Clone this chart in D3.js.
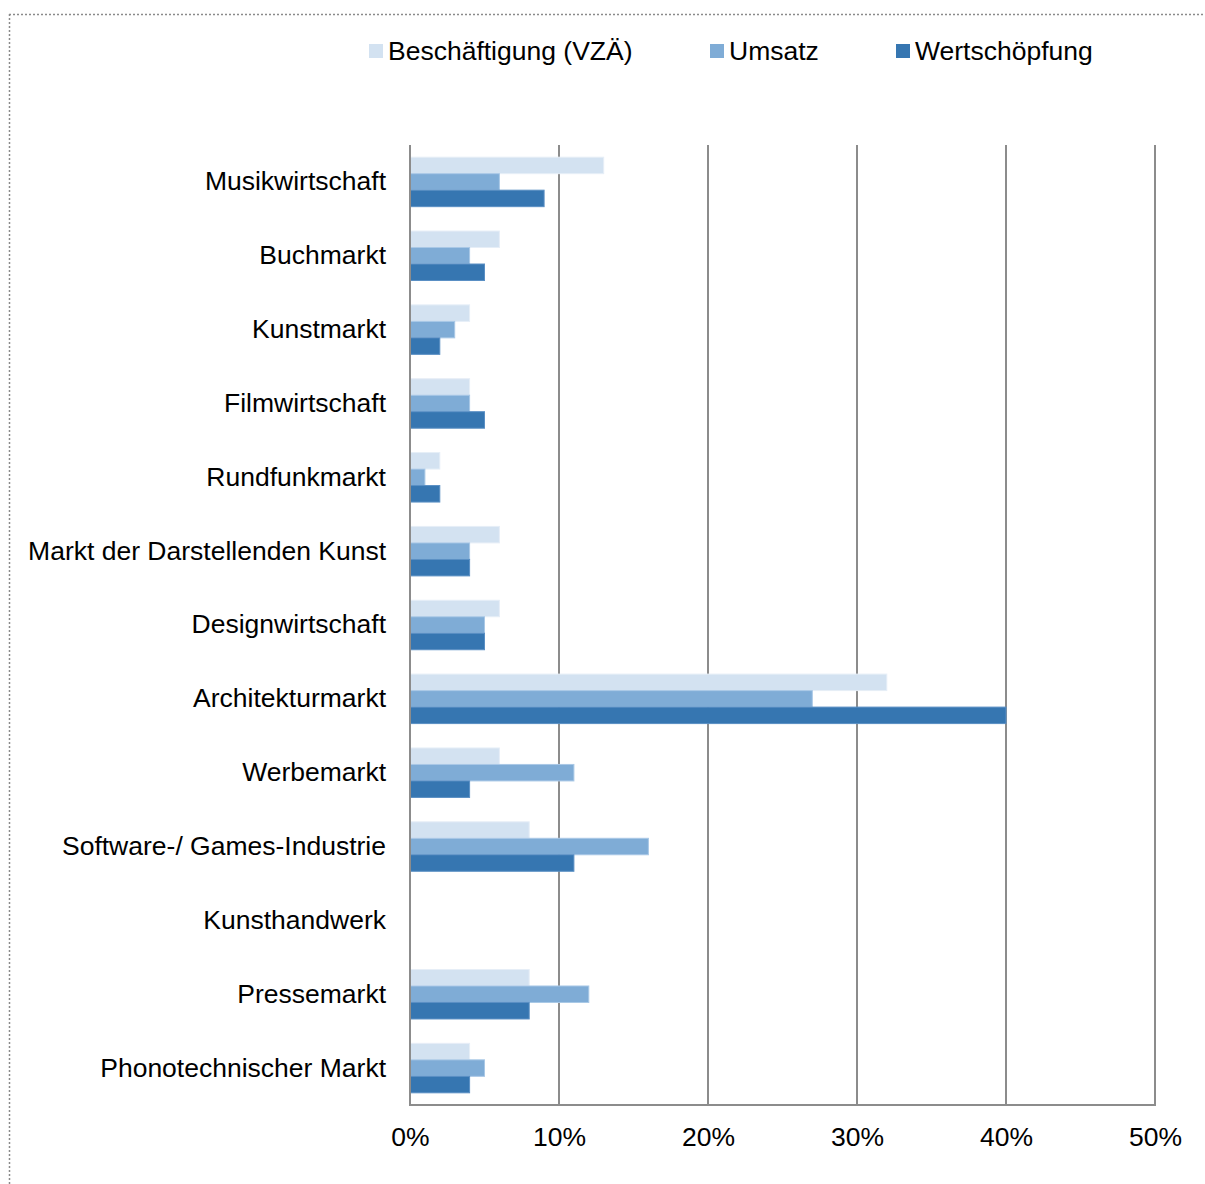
<!DOCTYPE html>
<html>
<head>
<meta charset="utf-8">
<script src="https://cdn.jsdelivr.net/npm/d3@7"></script>
<style>
  html, body { margin: 0; padding: 0; background: #fff; }
  svg text { font-family: "Liberation Sans", Arial, sans-serif; fill: #000; }
</style>
</head>
<body>
<svg id="chart" width="1205" height="1184"></svg>
<script>
// Branches of the cultural and creative industries
const categories = [
  "Musikwirtschaft", "Buchmarkt", "Kunstmarkt", "Filmwirtschaft", "Rundfunkmarkt",
  "Markt der Darstellenden Kunst", "Designwirtschaft", "Architekturmarkt", "Werbemarkt",
  "Software-/ Games-Industrie", "Kunsthandwerk", "Pressemarkt", "Phonotechnischer Markt"
];
const seriesNames = ["Beschäftigung (VZÄ)", "Umsatz", "Wertschöpfung"];
// Shares in percent (Kunsthandwerk has no values)
const beschaeftigung = [13, 6, 4, 4, 2, 6, 6, 32, 6, 8, null, 8, 4];
const umsatz         = [6, 4, 3, 4, 1, 4, 5, 27, 11, 16, null, 12, 5];
const wertschoepfung = [9, 5, 2, 5, 2, 4, 5, 40, 4, 11, null, 8, 4];
const tickValues = [0, 10, 20, 30, 40, 50];

const colors = ["#d3e2f1", "#7facd6", "#3676b1"];
const strokes = ["#e6eef7", "#a9c8e6", "#5a8fc4"];
const seriesValues = [beschaeftigung, umsatz, wertschoepfung];
const fontSize = "26.5px";

const svg = d3.select("#chart");

// Dotted frame (top and left edges visible)
svg.append("line").attr("x1", 9).attr("x2", 1205).attr("y1", 14.5).attr("y2", 14.5)
  .attr("stroke", "#8a8a8a").attr("stroke-width", 1.5).attr("stroke-dasharray", "2,2");
svg.append("line").attr("x1", 9.5).attr("x2", 9.5).attr("y1", 14).attr("y2", 1184)
  .attr("stroke", "#8a8a8a").attr("stroke-width", 1.5).attr("stroke-dasharray", "2,2");

const plot = { left: 410, right: 1155, top: 145, bottom: 1105 };

const x = d3.scaleLinear().domain([0, 50]).range([plot.left, plot.right]);
const y = d3.scaleBand().domain(categories).range([plot.top, plot.bottom]).paddingInner(0.33).paddingOuter(0.165);
const ySub = d3.scaleBand().domain(d3.range(3)).range([0, y.bandwidth()]);

// Vertical gridlines
svg.append("g").selectAll("line").data(tickValues.slice(1)).join("line")
  .attr("x1", d => x(d)).attr("x2", d => x(d))
  .attr("y1", plot.top).attr("y2", plot.bottom)
  .attr("stroke", "#8c8c8c").attr("stroke-width", 2);

// Bars
const rows = categories.map((c, i) => ({ c, vals: seriesValues.map(s => s[i]) }));
const groups = svg.append("g").selectAll("g").data(rows).join("g")
  .attr("transform", d => `translate(0,${y(d.c)})`);
groups.selectAll("rect")
  .data(d => d.vals.map((v, k) => ({ v, k })).filter(e => e.v != null))
  .join("rect")
  .attr("x", x(0))
  .attr("y", e => ySub(e.k))
  .attr("width", e => x(e.v) - x(0))
  .attr("height", ySub.bandwidth())
  .attr("fill", e => colors[e.k])
  .attr("stroke", e => strokes[e.k])
  .attr("stroke-width", 1);

// Axes lines
svg.append("line").attr("x1", plot.left).attr("x2", plot.left).attr("y1", plot.top).attr("y2", plot.bottom)
  .attr("stroke", "#8c8c8c").attr("stroke-width", 2);
svg.append("line").attr("x1", plot.left - 1).attr("x2", plot.right + 1).attr("y1", plot.bottom).attr("y2", plot.bottom)
  .attr("stroke", "#8c8c8c").attr("stroke-width", 2);

// X tick labels
const xAxis = d3.axisBottom(x).tickValues(tickValues).tickFormat(d => d + "%").tickSize(0).tickPadding(22);
const gx = svg.append("g").attr("transform", `translate(0,${plot.bottom})`).call(xAxis);
gx.select(".domain").remove();
gx.selectAll("text").style("font-size", fontSize).style("font-family", '"Liberation Sans", Arial, sans-serif').attr("fill", "#000");

// Y category labels
const yAxis = d3.axisLeft(y).tickSize(0).tickPadding(24);
const gy = svg.append("g").attr("transform", `translate(${plot.left},0)`).call(yAxis);
gy.select(".domain").remove();
gy.selectAll("text").style("font-size", fontSize).style("font-family", '"Liberation Sans", Arial, sans-serif').attr("fill", "#000");

// Legend
const legendX = [369, 710, 896];
const legend = svg.append("g").selectAll("g").data(seriesNames).join("g")
  .attr("transform", (d, i) => `translate(${legendX[i]},44)`);
legend.append("rect").attr("width", 14).attr("height", 14).attr("fill", (d, i) => colors[i]);
legend.append("text").attr("x", 19).attr("y", 7).attr("dy", "0.35em")
  .style("font-size", fontSize).text(d => d);
</script>
</body>
</html>
